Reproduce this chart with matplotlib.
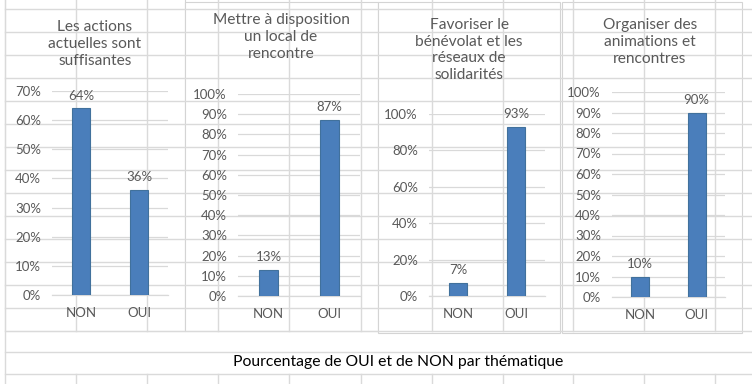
import matplotlib
matplotlib.use("Agg")
import matplotlib.pyplot as plt
from matplotlib.lines import Line2D
from matplotlib.patches import Rectangle
from matplotlib.ticker import PercentFormatter

plt.rcParams['font.family'] = ['Lato', 'DejaVu Sans']

# data
categories = ["NON", "OUI"]
titles = [
    "Les actions\nactuelles sont\nsuffisantes",
    "Mettre à disposition\nun local de\nrencontre",
    "Favoriser le\nbénévolat et les\nréseaux de\nsolidarités",
    "Organiser des\nanimations et\nrencontres",
]
values = [
    [0.64, 0.36],
    [0.13, 0.87],
    [0.07, 0.93],
    [0.10, 0.90],
]
y_max = [0.7, 1.0, 1.0, 1.0]
y_step = [0.1, 0.1, 0.2, 0.1]
caption = "Pourcentage de OUI et de NON par thématique"

W, H = 752, 384
BAR = "#4A7EBB"
EDGE = "#41719C"
TXT = "#595959"
GRID = "#D9D9D9"
SHEET = "#DADADA"


def fx(x):
    return x / W


def fy(y):
    return 1 - y / H


fig = plt.figure(figsize=(W / 100, H / 100), dpi=100)
fig.patch.set_facecolor("white")

# spreadsheet cell grid behind the charts
rows = [9 + 23 * k for k in range(15)] + [352, 374]
cols = [76, 147, 218, 289, 361, 432, 503, 573, 644, 715]
for y in rows:
    fig.add_artist(Line2D([fx(5), 1], [fy(y), fy(y)], color=SHEET, lw=1))
fig.add_artist(Line2D([fx(5), fx(5)], [0, 1], color=SHEET, lw=1))
for x in cols:
    fig.add_artist(Line2D([fx(x), fx(x)], [fy(0), fy(331)], color=SHEET, lw=1))
    fig.add_artist(Line2D([fx(x), fx(x)], [fy(374), 0], color=SHEET, lw=1))

# chart frames (x0, x1, y0, y1 in pixels)
frames = [(5, 185, -2, 331), (185, 378, 2, 331), (378, 560, 2, 333), (562, 742, 2, 333)]
for x0, x1, y0, y1 in frames:
    fig.add_artist(Rectangle((fx(x0), fy(y1)), fx(x1 - x0), (y1 - y0) / H,
                             transform=fig.transFigure, facecolor="white",
                             edgecolor="#D4D4D4", lw=0.8, zorder=1))

# plot areas (left, right, top of scale, zero line) in pixels
areas = [(52, 168, 91, 295), (238, 360, 94, 296), (429, 545, 114, 296), (612, 725, 92, 297)]
title_pos = [(95, 44), (281, 37), (469, 50), (650, 42)]

for i in range(4):
    l, r, t, b = areas[i]
    ax = fig.add_axes([fx(l), fy(b), (r - l) / W, (b - t) / H], zorder=2)
    ax.set_facecolor("none")
    ax.bar(categories, values[i], width=0.31, color=BAR, edgecolor=EDGE, lw=0.8, zorder=3)
    ax.set_xlim(-0.5, 1.5)
    ax.set_ylim(0, y_max[i])
    n = int(round(y_max[i] / y_step[i]))
    ax.set_yticks([k * y_step[i] for k in range(n + 1)])
    ax.yaxis.set_major_formatter(PercentFormatter(1.0, decimals=0))
    ax.grid(axis="y", color=GRID, lw=0.9, zorder=0)
    for s in ["left", "right", "top"]:
        ax.spines[s].set_visible(False)
    ax.spines["bottom"].set_color(GRID)
    ax.spines["bottom"].set_linewidth(0.9)
    ax.tick_params(axis="y", length=0, pad=8, labelsize=9.5, labelcolor=TXT)
    ax.tick_params(axis="x", length=0, pad=8.5, labelsize=9.5, labelcolor=TXT)
    for j, v in enumerate(values[i]):
        ax.annotate(f"{v:.0%}", (j, v), xytext=(0, 5), textcoords="offset points",
                    ha="center", va="bottom", fontsize=9.5, color=TXT)
    tx, ty = title_pos[i]
    fig.text(fx(tx), fy(ty), titles[i], ha="center", va="center", fontsize=11.2,
             color=TXT, linespacing=1.25, zorder=3)

fig.text(fx(398), fy(362), caption, ha="center", va="center", fontsize=11.3, color="#000000")

fig.savefig("out.png", dpi=100)
